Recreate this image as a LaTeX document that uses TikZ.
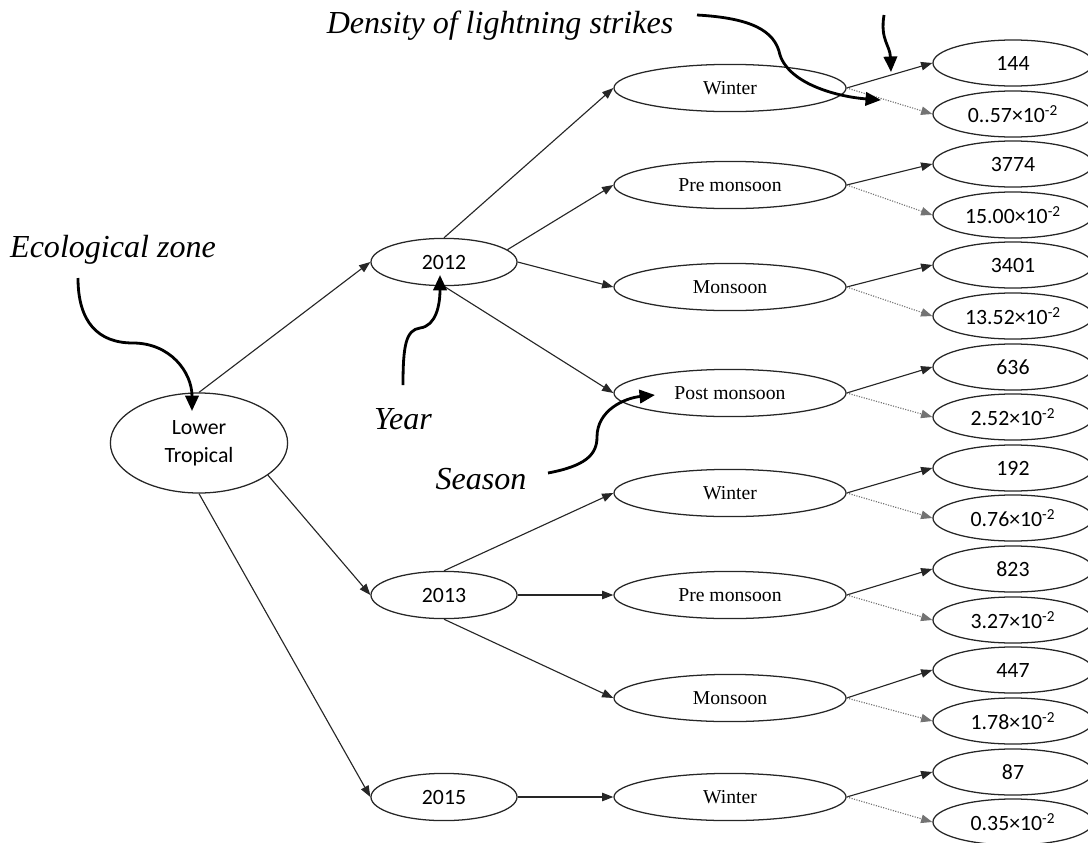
\documentclass[tikz,border=0pt]{standalone}
\usepackage{fontspec}
\setmainfont{Liberation Serif}
\newfontfamily\calibfont{Carlito}
\usetikzlibrary{shapes.geometric, positioning, arrows.meta}

\tikzset{
  zone/.style={ellipse, draw=black!85, line width=0.9pt, minimum width=4.43cm, minimum height=2.5cm, inner sep=0pt, align=center, font=\calibfont\fontsize{15.5}{20}\selectfont},
  yearnode/.style={ellipse, draw=black!85, line width=0.9pt, minimum width=3.65cm, minimum height=1.18cm, inner sep=0pt, font=\calibfont\fontsize{15.5}{18}\selectfont},
  season/.style={ellipse, draw=black!85, line width=0.9pt, minimum width=5.8cm, minimum height=1.18cm, inner sep=0pt, font=\fontsize{14}{16}\selectfont},
  value/.style={ellipse, draw=black!85, line width=0.9pt, minimum width=4cm, minimum height=1.15cm, inner sep=0pt, font=\calibfont\fontsize{15.5}{18}\selectfont},
  link/.style={-{Triangle[length=8pt, width=6pt]}, draw=black!85, line width=0.8pt},
  dlink/.style={link, densely dotted, draw=black!55},
  note/.style={font=\fontsize{22.8}{27}\selectfont\itshape, inner sep=0pt, anchor=base},
  pointer/.style={-{Triangle[length=11pt, width=9.5pt]}, line width=2pt}
}

\begin{document}
\begin{tikzpicture}[x=0.025cm, y=-0.025cm]
  \clip (0,0) rectangle (1088,843);

  % Zone and years
  \node[zone] (lt) at (199,443) {Lower\\Tropical};
  \node[yearnode] (y2012) at (444,262) {2012};
  \node[yearnode] (y2013) at (444,595) {2013};
  \node[yearnode] (y2015) at (444,797) {2015};

  % Seasons
  \node[season] (s1) at (730,88) {Winter};
  \node[season] (s2) at (730,185) {Pre monsoon};
  \node[season] (s3) at (730,287) {Monsoon};
  \node[season] (s4) at (730,393) {Post monsoon};
  \node[season] (s5) at (730,493) {Winter};
  \node[season] (s6) at (730,595) {Pre monsoon};
  \node[season] (s7) at (730,698) {Monsoon};
  \node[season] (s8) at (730,797) {Winter};

  % Strikes and density
  \node[value] (v1) at (1013,63) {144};
  \node[value] (v2) at (1013,114) {0..57×10\textsuperscript{-2}};
  \node[value] (v3) at (1013,164) {3774};
  \node[value] (v4) at (1013,215) {15.00×10\textsuperscript{-2}};
  \node[value] (v5) at (1013,265) {3401};
  \node[value] (v6) at (1013,316) {13.52×10\textsuperscript{-2}};
  \node[value] (v7) at (1013,367) {636};
  \node[value] (v8) at (1013,417) {2.52×10\textsuperscript{-2}};
  \node[value] (v9) at (1013,468) {192};
  \node[value] (v10) at (1013,518) {0.76×10\textsuperscript{-2}};
  \node[value] (v11) at (1013,569) {823};
  \node[value] (v12) at (1013,620) {3.27×10\textsuperscript{-2}};
  \node[value] (v13) at (1013,670) {447};
  \node[value] (v14) at (1013,721) {1.78×10\textsuperscript{-2}};
  \node[value] (v15) at (1013,772) {87};
  \node[value] (v16) at (1013,822) {0.35×10\textsuperscript{-2}};

  % Tree
  \path (lt.north) edge[link] (y2012.west)
        (lt.-25) edge[link] (y2013.west)
        (lt.south) edge[link] (y2015.west);
  \path (y2012.north) edge[link] (s1.west)
        (y2012.11) edge[link] (s2.west)
        (y2012.east) edge[link] (s3.west)
        (y2012.south) edge[link] (s4.west);
  \path (y2013.north) edge[link] (s5.west)
        (y2013.east) edge[link] (s6.west)
        (y2013.south) edge[link] (s7.west);
  \path (y2015.east) edge[link] (s8.west);
  \path (s1.east) edge[link] (v1.west) edge[dlink] (v2.west)
        (s2.east) edge[link] (v3.west) edge[dlink] (v4.west)
        (s3.east) edge[link] (v5.west) edge[dlink] (v6.west)
        (s4.east) edge[link] (v7.west) edge[dlink] (v8.west)
        (s5.east) edge[link] (v9.west) edge[dlink] (v10.west)
        (s6.east) edge[link] (v11.west) edge[dlink] (v12.west)
        (s7.east) edge[link] (v13.west) edge[dlink] (v14.west)
        (s8.east) edge[link] (v15.west) edge[dlink] (v16.west);

  % Labels
  \node[note] (eco) at (113,257) {Ecological zone};
  \node[note] (year) at (403,429) {Year};
  \node[note] (seas) at (481,489) {Season};
  \node[note] (dens) at (500,33) {Density of lightning strikes};
  \coordinate (tipzone) at (192,411);
  \coordinate (tipyear) at (440,275);
  \coordinate (tipseason) at (655,395);
  \coordinate (tipdens) at (881,100);
  \coordinate (topfree) at (884,15);
  \coordinate (tiptop) at (891,72);

  \draw[pointer] ([shift={(-35,21)}]eco.base) .. controls (78,322) and (98,343) .. (133,343)
    .. controls (170,343) and (192,372) .. (tipzone);
  \draw[pointer] ([shift={(0,-44)}]year.base) .. controls (403,345) and (406,330) .. (420,328)
    .. controls (436,326) and (440,305) .. (tipyear);
  \draw[pointer] ([shift={(67,-16)}]seas.base) .. controls (585,466) and (597,455) .. (597,437)
    .. controls (597,410) and (625,398) .. (tipseason);
  \draw[pointer] ([shift={(197,-18)}]dens.base) .. controls (750,18) and (775,30) .. (780,55)
    .. controls (790,85) and (840,97) .. (tipdens);
  \draw[pointer] (topfree) .. controls (880,40) and (890,45) .. (tiptop);
\end{tikzpicture}
\end{document}
